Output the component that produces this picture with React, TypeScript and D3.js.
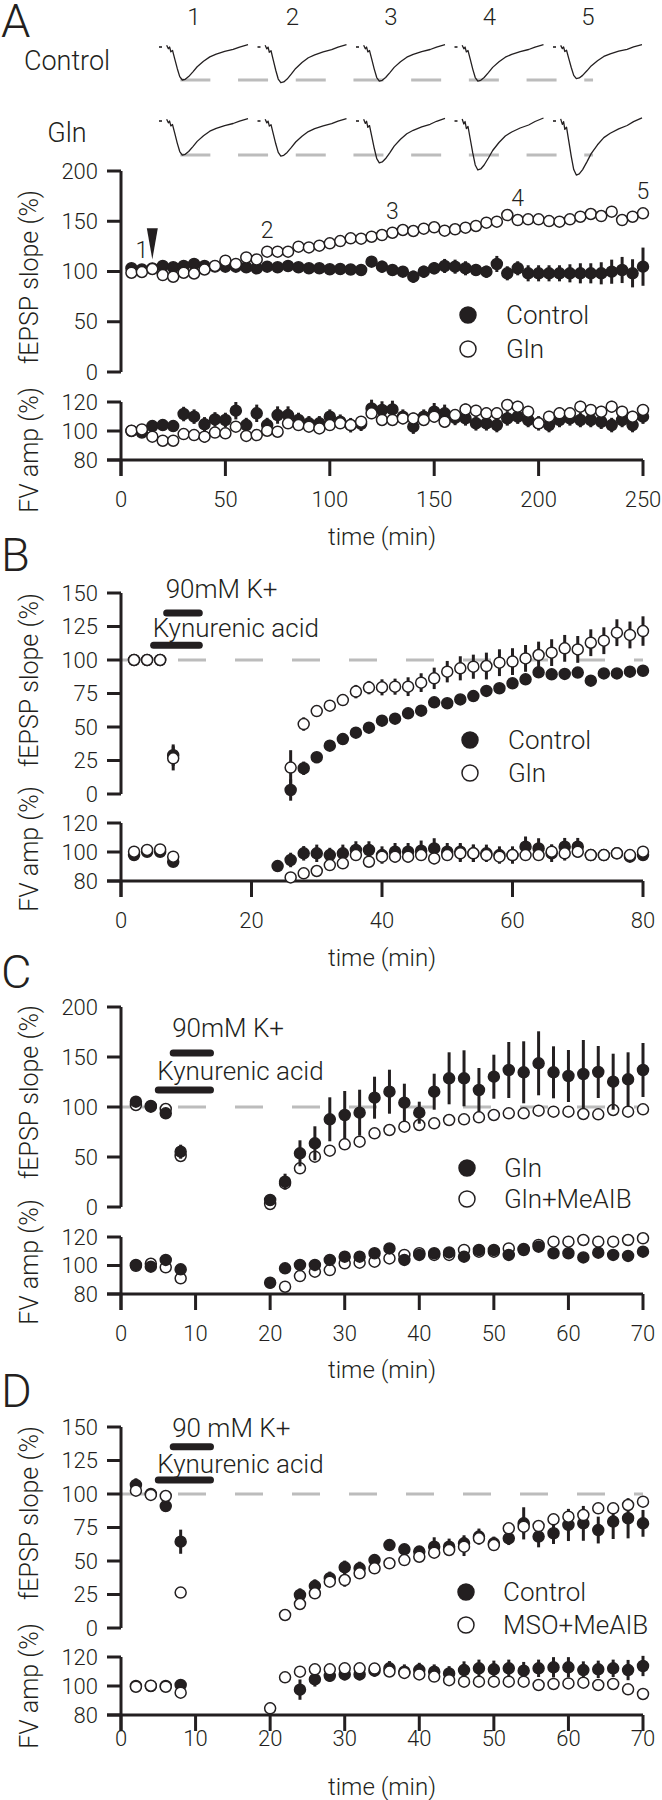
import React from 'react';
import * as d3 from 'd3';

const W = 662;
const H = 1800;
const FONT = "Roboto, 'Liberation Sans', Arial, sans-serif";
const FW = 300;
const INK = '#231f20';
const GRAY = '#bcbcbc';

type Series = { t: number[]; v: number[]; e: number[] };
const S = (t: number[], v: number[], e: number[]): Series => ({ t, v, e });

// ---------------- Panel A data ----------------
const aTimes = d3.range(5, 251, 5);
const aSlopeControl = [103.2, 102, 103, 105.5, 104.2, 105.5, 107.5, 105.5, 105, 104.8, 104.8, 104.2, 103.2, 104.8, 104.2, 105.5, 104.2, 103.2, 103.2, 102.2,
  102.5, 102, 101.5, 109.8, 104.8, 101.5, 99.8, 94.9, 99.8, 103.2, 105.5, 104.8, 103.2, 101.5, 99.8, 107.5, 98.2, 103.2, 98.2, 98.2,
  98.2, 98.2, 98.2, 98.2, 98.2, 98.2, 99.8, 101.5, 98.2, 104.8];
const aSlopeControlErr = [2, 2, 2, 3, 3, 3, 3, 3, 3, 3, 4, 5, 4, 4, 4, 4, 4, 4, 4, 4,
  4, 4, 4, 5, 6, 5, 5, 6, 6, 6, 7, 7, 7, 6, 6, 8, 7, 7, 8, 8, 8, 8, 9, 10, 10, 11, 12, 13, 14, 19];
const aSlopeGln = [98.8, 99.5, 102.5, 96.5, 94.8, 98.8, 98, 102, 105.5, 110.8, 107.5, 114, 112, 119.7, 119.7, 119.7, 124.7, 124, 125.7, 128,
  130.3, 133, 132.7, 134.6, 136.3, 138.6, 141.3, 140.3, 142.6, 144, 140.6, 142, 143.6, 145.3, 148.6, 149.6, 156.2, 151.2, 151.9, 151.9,
  150.2, 149.6, 151.9, 154.5, 157.2, 155.2, 159.5, 151.2, 154.5, 157.9];
const aSlopeGlnErr = [1, 1, 1, 1, 1, 1, 1, 1, 1, 1, 1, 1, 1, 1, 1, 1, 1, 1, 1, 1,
  1, 1, 1, 1, 1, 1, 1, 1, 1, 1, 1, 1, 1, 1, 1, 1, 1, 2, 2, 2, 2, 2, 2, 3, 3, 4, 3, 4, 4, 3];
const aFvControl = [100, 98.9, 103.4, 104.1, 103.4, 111.7, 109.9, 104.6, 108, 107.6, 114, 104.1, 112.2, 104.1, 111, 111, 107.6, 105.3, 105.3, 109.9,
  106.4, 104, 105, 115.6, 114.5, 114.9, 109.9, 103, 109.9, 113.3, 112.2, 109, 108.7, 105.3, 105.3, 104.1, 108.7, 109.9, 107.6, 105.3,
  104.1, 107.6, 108.7, 107.6, 107.6, 106.4, 104.1, 107.6, 104.1, 109.9];
const aFvControlErr = [3, 3, 4, 4, 4, 5, 5, 5, 5, 5, 6, 5, 6, 5, 6, 6, 5, 5, 5, 5,
  5, 5, 5, 6, 6, 6, 5, 5, 5, 6, 6, 5, 5, 5, 5, 5, 5, 5, 5, 5, 5, 5, 5, 5, 5, 5, 5, 5, 5, 5];
const aFvGln = [100.2, 101.1, 96.1, 93.3, 93.3, 97.9, 97.2, 96.1, 98.9, 98.4, 103, 96.6, 97.2, 100.2, 99.5, 105.3, 104.1, 103, 101.8, 104.1,
  105.3, 104.1, 106.4, 112.2, 107.6, 107.6, 108.7, 108.7, 107.6, 109.9, 106.4, 111, 114.9, 114, 112.2, 112.2, 118, 116.8, 113.3, 105.3,
  109.9, 112.2, 112.2, 116.8, 114.5, 113.3, 116.8, 113.3, 109.9, 114.5];
const aFvGlnErr = [2, 2, 2, 3, 3, 3, 3, 4, 3, 3, 3, 3, 3, 3, 3, 3, 3, 3, 3, 3,
  3, 3, 3, 4, 4, 4, 4, 4, 4, 4, 4, 4, 4, 4, 4, 4, 4, 4, 4, 4, 4, 4, 4, 4, 4, 4, 4, 4, 4, 4];
const aTraceTimes = [10, 70, 130, 190, 250];
const aTraceLabels = ['1', '2', '3', '4', '5'];
const aArrowTime = 15;

const traceShapeT = [0.086, 0.105, 0.119, 0.133, 0.152, 0.176, 0.205, 0.233, 0.262, 0.295, 0.333, 0.381, 0.429, 0.5, 0.571, 0.643, 0.738, 0.833, 0.905, 1.0];
const traceShapeV = [-0.02, 0.08, 0.03, 0.17, 0.13, 0.37, 0.66, 0.9, 1.0, 0.98, 0.9, 0.76, 0.61, 0.45, 0.32, 0.24, 0.16, 0.1, 0.03, -0.04];
const traceControlAmp = [1.0, 1.08, 1.03, 1.03, 0.96];
const traceGlnAmp = [1.03, 1.06, 1.26, 1.47, 1.62];

// ---------------- Panel B data ----------------
const bPreT = [2, 4, 6, 8];
const bSlopeCtrlPre = [100, 100, 100, 29];
const bSlopeCtrlPreErr = [1, 1, 1, 8];
const bSlopeGlnPre = [100, 100, 100, 26.6];
const bSlopeGlnPreErr = [1, 1, 1, 9];
const bSlopePostT = d3.range(26, 81, 2);
const bSlopeCtrlPost = [3.0, 19.2, 27.4, 36.1, 41, 45.8, 49.5, 54.7, 56.2, 60.2, 62.2, 68.4, 67.7, 70.6, 73.1, 76.9, 78.9, 82.6, 85.6, 90.8, 89.3, 89.6, 90.6, 84.6, 90.0, 90.0, 91.3, 92.0];
const bSlopeCtrlPostErr = [8, 5, 3, 2, 2, 2, 2, 2, 2, 2, 2, 2, 2, 2, 2, 2, 2, 2, 2, 3, 3, 3, 3, 3, 3, 3, 3, 3];
const bSlopeGlnPost = [19.7, 52.2, 61.9, 65.9, 70.1, 76.4, 79.4, 79.6, 80.1, 80.1, 83.1, 86.3, 91.3, 93.8, 95.0, 95.5, 98, 98.8, 101.2, 103.7, 105.5, 108.7, 107.9, 112.9, 114.4, 120.4, 118.7, 121.6];
const bSlopeGlnPostErr = [13, 5, 4, 4, 4, 5, 5, 6, 6, 7, 7, 8, 8, 9, 9, 10, 10, 10, 10, 10, 10, 10, 10, 10, 10, 10, 10, 11];
const bFvCtrlPre = [97.9, 100.2, 100.2, 93.3];
const bFvGlnPre = [100.2, 101.4, 101.8, 96.8];
const bFvPreErr = [2, 2, 2, 3];
const bFvCtrlPostT = d3.range(24, 81, 2);
const bFvCtrlPost = [90.3, 94.5, 99.1, 99.1, 97.9, 99.1, 101.4, 101.4, 97.9, 100.2, 100.2, 100.9, 102.5, 100.2, 100.2, 99.1, 99.1, 97.9, 97.9, 103.7, 102.5, 99.1, 103.7, 103.7, 97.9, 97.9, 99.1, 96.8, 97.9];
const bFvCtrlPostErr = [4, 5, 5, 6, 5, 6, 6, 6, 6, 6, 6, 7, 7, 6, 6, 6, 6, 6, 6, 7, 7, 6, 6, 6, 3, 3, 3, 3, 3];
const bFvGlnPostT = d3.range(26, 81, 2);
const bFvGlnPost = [82.5, 85.3, 86.9, 91, 92.2, 97.9, 93.3, 96.8, 96.8, 96.8, 97.9, 95.6, 97.9, 99.1, 99.1, 97.9, 96.8, 97.9, 97.9, 97.9, 100.2, 99.1, 100.2, 97.9, 97.9, 99.1, 97.9, 100.2];
const bFvGlnPostErr = [3, 3, 3, 3, 3, 4, 3, 3, 4, 4, 4, 4, 4, 6, 6, 4, 4, 4, 4, 4, 5, 5, 4, 3, 3, 3, 3, 3];

// ---------------- Panel C data ----------------
const cPreT = [2, 4, 6, 8];
const cSlopeGlnPre = [105.3, 100.3, 93.7, 55.3];
const cSlopeGlnPreErr = [2, 2, 3, 7];
const cSlopeMePre = [102, 101, 98, 51];
const cSlopeMePreErr = [1, 1, 1, 3];
const cPostT = d3.range(20, 71, 2);
const cSlopeGlnPost = [7, 25.3, 53.7, 63.7, 87.7, 92, 94.3, 109.3, 115.3, 104.3, 94.3, 115.3, 128.7, 128.7, 117, 130.3, 137, 134.7, 143.7, 134.7, 131, 133, 135, 125.3, 127.7, 137];
const cSlopeGlnPostErr = [3, 8, 13, 17, 22, 24, 23, 21, 22, 19, 11, 18, 26, 28, 22, 22, 28, 31, 32, 26, 26, 34, 26, 28, 27, 27];
const cSlopeMePost = [3, 23.7, 38.7, 50.3, 56.3, 62.7, 65.3, 73.7, 77, 80.3, 82, 83.7, 87, 87.7, 89.7, 92, 93.7, 93.7, 96.3, 95.3, 95.3, 93, 92.7, 97, 95.3, 97.7];
const cSlopeMePostErr = [3, 4, 3, 3, 4, 3, 3, 3, 3, 3, 3, 3, 3, 3, 3, 3, 3, 3, 3, 3, 3, 3, 4, 4, 4, 4];
const cFvGlnPre = [100.4, 99.2, 103.9, 97.3];
const cFvMePre = [99.8, 101.2, 98.7, 91];
const cFvPreErr = [2, 2, 2, 3];
const cFvGlnPost = [87.9, 98, 100.4, 100.4, 103.9, 106.2, 106.2, 108.6, 112, 103.9, 107.4, 108.6, 109.2, 106.2, 110.9, 110.9, 107.4, 111.6, 113.2, 108.6, 108.6, 105.7, 109, 107.4, 106.7, 109.7];
const cFvGlnPostErr = [4, 3, 3, 3, 3, 3, 3, 3, 3, 3, 3, 3, 3, 3, 3, 3, 3, 3, 3, 3, 3, 3, 3, 3, 3, 3];
const cFvMePostT = d3.range(22, 71, 2);
const cFvMePost = [85.1, 92.6, 95.7, 96.8, 101.5, 102, 102.7, 105, 107.4, 108.6, 107.4, 107.4, 110.9, 109.7, 109.7, 112, 110.9, 114.4, 116.7, 116.7, 117.9, 116.7, 116.7, 117.9, 119.1];
const cFvMePostErr = [2, 2, 2, 2, 2, 2, 2, 2, 2, 2, 2, 2, 2, 2, 2, 2, 2, 2, 2, 2, 2, 2, 2, 2, 2];

// ---------------- Panel D data ----------------
const dPreT = [2, 4, 6, 8];
const dSlopeCtrlPre = [106.7, 100, 91, 64.4];
const dSlopeCtrlPreErr = [5, 2, 4, 9];
const dSlopeMsoPre = [102.5, 99.3, 98.5, 26.4];
const dSlopeMsoPreErr = [1, 1, 1, 1];
const dSlopeCtrlPostT = d3.range(24, 71, 2);
const dSlopeCtrlPost = [24.6, 31.3, 37.1, 45.3, 44.5, 50.7, 61.9, 58.7, 57, 60.7, 60.7, 63.2, 68.2, 63.2, 66.9, 78.1, 68.2, 70.7, 76.9, 78.1, 73.1, 79.4, 81.9, 78.1];
const dSlopeCtrlPostErr = [5, 5, 5, 5, 5, 4, 4, 4, 4, 7, 6, 6, 6, 5, 5, 12, 8, 8, 12, 13, 10, 13, 15, 10];
const dSlopeMsoPostT = d3.range(22, 71, 2);
const dSlopeMsoPost = [9.7, 17.9, 25.9, 34.6, 35.8, 40.8, 44.5, 48.3, 50.7, 53.2, 56.2, 58.2, 60.7, 66.9, 61.9, 74.4, 75.6, 76.1, 81.1, 83.1, 84.3, 89.3, 89.3, 91.8, 94.3];
const dSlopeMsoPostErr = [3, 3, 3, 3, 5, 3, 3, 3, 3, 3, 3, 3, 7, 3, 3, 3, 5, 3, 3, 3, 3, 3, 4, 3, 3];
const dFvCtrlPre = [100, 100, 100, 100.7];
const dFvMsoPre = [99.5, 100.2, 99.5, 95.4];
const dFvPreErr = [1, 1, 1, 2];
const dFvCtrlPostT = d3.range(24, 71, 2);
const dFvCtrlPost = [97.5, 104.6, 107, 108, 108, 110.6, 112.2, 109.9, 111, 109.9, 108.7, 111, 112.2, 111.5, 112.2, 110.6, 112.2, 112.9, 112.9, 111, 111.5, 112.2, 111, 113.8];
const dFvCtrlPostErr = [7, 5, 4, 4, 4, 4, 5, 5, 5, 5, 5, 6, 6, 6, 6, 6, 6, 7, 7, 6, 6, 6, 7, 7];
const dFvMsoPostT = d3.range(20, 71, 2);
const dFvMsoPost = [84.6, 106, 109.9, 111.5, 111.5, 112.2, 112.2, 112, 110, 109, 108, 106.5, 104, 103, 103, 103, 103, 103, 100.7, 101.4, 101.8, 102.3, 100.7, 101.4, 97.7, 94.5];
const dFvMsoPostErr = [4, 3, 3, 3, 3, 3, 3, 3, 3, 3, 3, 3, 3, 3, 3, 3, 3, 3, 3, 3, 3, 3, 3, 3, 3, 3];

// ---------------- drawing helpers ----------------
const X0 = 121;
const X1 = 643;

function Dots({ list, x, y, filled, r = 5.5 }: { list: Series[]; x: any; y: any; filled: boolean; r?: number }) {
  return (
    <g>
      {list.map((s, k) => (
        <g key={k}>
          {s.t.map((t, i) =>
            s.e[i] > 0 ? (
              <line key={'e' + i} x1={x(t)} x2={x(t)} y1={y(s.v[i] - s.e[i])} y2={y(s.v[i] + s.e[i])} stroke={INK} strokeWidth={3} />
            ) : null
          )}
          {s.t.map((t, i) => (
            <circle key={'c' + i} cx={x(t)} cy={y(s.v[i])} r={r} fill={filled ? INK : '#fff'} stroke={INK} strokeWidth={1.5} />
          ))}
        </g>
      ))}
    </g>
  );
}

type Group = { filled: boolean; slope: Series[]; fv: Series[] };

interface PanelCfg {
  letter: string;
  letterY: number;
  xMax: number;
  xTicks: number[];
  slopeMax: number;
  slopeTicks: number[];
  slopePx: [number, number];
  fvPx: [number, number];
  groups: Group[];
  dashed: boolean;
  slopeLabelY: number;
  fvLabelY: number;
  tickLabelY: number;
  timeLabelY: number;
  legend: { names: string[]; ys: number[]; cx: number; tx: number };
  bars?: { kyn: number[]; kynV: number; kp: number[]; kpV: number; kpLabel: string; kpBase: number; kynBase: number };
}

function Panel({ cfg, children }: { cfg: PanelCfg; children?: any }) {
  const x = d3.scaleLinear().domain([0, cfg.xMax]).range([X0, X1]);
  const y = d3.scaleLinear().domain([0, cfg.slopeMax]).range(cfg.slopePx);
  const yf = d3.scaleLinear().domain([80, 120]).range(cfg.fvPx);
  const fvTicks = [80, 100, 120];
  const axisW = 3;
  const tickL = 14;
  return (
    <g fontFamily={FONT} fontWeight={FW} fill={INK}>
      {cfg.letter && <text x={1} y={cfg.letterY} fontSize={47}>{cfg.letter}</text>}
      {cfg.dashed && (
        <line x1={x(0)} x2={x(cfg.xMax)} y1={y(100)} y2={y(100)} stroke={GRAY} strokeWidth={3} strokeDasharray="28 29" />
      )}
      <line x1={X0} x2={X0} y1={y(cfg.slopeMax)} y2={y(0)} stroke={INK} strokeWidth={axisW} />
      {cfg.slopeTicks.map((v) => (
        <g key={'st' + v}>
          <line x1={X0 - tickL} x2={X0} y1={y(v)} y2={y(v)} stroke={INK} strokeWidth={axisW} />
          <text x={X0 - 23} y={y(v)} fontSize={22} textAnchor="end" dominantBaseline="central">{v}</text>
        </g>
      ))}
      <line x1={X0} x2={X0} y1={yf(120)} y2={yf(80) + 16} stroke={INK} strokeWidth={axisW} />
      <line x1={X0 - tickL} x2={X1} y1={yf(80)} y2={yf(80)} stroke={INK} strokeWidth={axisW} />
      {fvTicks.map((v) => (
        <g key={'ft' + v}>
          <line x1={X0 - tickL} x2={X0} y1={yf(v)} y2={yf(v)} stroke={INK} strokeWidth={axisW} />
          <text x={X0 - 23} y={yf(v)} fontSize={22} textAnchor="end" dominantBaseline="central">{v}</text>
        </g>
      ))}
      {cfg.xTicks.map((t) => (
        <g key={'xt' + t}>
          <line x1={x(t)} x2={x(t)} y1={yf(80)} y2={yf(80) + 16} stroke={INK} strokeWidth={axisW} />
          <text x={x(t)} y={cfg.tickLabelY} fontSize={22} textAnchor="middle" dominantBaseline="central">{t}</text>
        </g>
      ))}
      <text x={(X0 + X1) / 2} y={cfg.timeLabelY} fontSize={24} textAnchor="middle" dominantBaseline="central">time (min)</text>
      <text transform={`translate(38,${cfg.slopeLabelY}) rotate(-90)`} fontSize={25} textAnchor="middle">fEPSP slope (%)</text>
      <text transform={`translate(38,${cfg.fvLabelY}) rotate(-90)`} fontSize={25} textAnchor="middle">FV amp (%)</text>
      {cfg.bars && (
        <g>
          <line x1={x(cfg.bars.kp[0])} x2={x(cfg.bars.kp[1])} y1={y(cfg.bars.kpV)} y2={y(cfg.bars.kpV)} stroke={INK} strokeWidth={7} strokeLinecap="round" />
          <line x1={x(cfg.bars.kyn[0])} x2={x(cfg.bars.kyn[1])} y1={y(cfg.bars.kynV)} y2={y(cfg.bars.kynV)} stroke={INK} strokeWidth={7} strokeLinecap="round" />
          <text x={x(cfg.bars.kp[0]) - 1} y={cfg.bars.kpBase} fontSize={26}>{cfg.bars.kpLabel}</text>
          <text x={x(cfg.bars.kyn[0]) - 1} y={cfg.bars.kynBase} fontSize={26}>Kynurenic acid</text>
        </g>
      )}
      {cfg.groups.map((g, i) => (
        <g key={'g' + i}>
          <Dots list={g.slope} x={x} y={y} filled={g.filled} />
          <Dots list={g.fv} x={x} y={yf} filled={g.filled} />
        </g>
      ))}
      {cfg.legend.names.map((n, i) => (
        <g key={'lg' + i}>
          <circle cx={cfg.legend.cx} cy={cfg.legend.ys[i]} r={8} fill={i === 0 ? INK : '#fff'} stroke={INK} strokeWidth={1.5} />
          <text x={cfg.legend.tx} y={cfg.legend.ys[i]} fontSize={26} dominantBaseline="central">{n}</text>
        </g>
      ))}
      {children ? children(x, y) : null}
    </g>
  );
}

function Traces() {
  const idx = d3.scaleLinear().domain([0, 4]).range([159, 553]);
  const width = 89;
  const amp = d3.scaleLinear().domain([0, 1]).range([0, 34]);
  const rows = [
    { label: 'Control', base: 46, amps: traceControlAmp, labelY: 70 },
    { label: 'Gln', base: 120, amps: traceGlnAmp, labelY: 142 },
  ];
  return (
    <g fontFamily={FONT} fontWeight={FW} fill={INK}>
      <text x={1} y={37} fontSize={47}>A</text>
      {aTraceLabels.map((l, i) => (
        <text key={'n' + l} x={idx(i) + 35} y={25} fontSize={24} textAnchor="middle">{l}</text>
      ))}
      {rows.map((row) => {
        const depth1 = amp(row.amps[0]);
        return (
          <g key={row.label}>
            <text x={67} y={row.labelY} fontSize={27} textAnchor="middle">{row.label}</text>
            <line x1={idx(0) + width * 0.24} x2={idx(4) + width * 0.45} y1={row.base + depth1} y2={row.base + depth1}
              stroke={GRAY} strokeWidth={3} strokeDasharray="30 27.7" />
            {row.amps.map((a, i) => {
              const x0 = idx(i);
              const line = d3.line<number>()
                .x((_, k) => x0 + traceShapeT[k] * width)
                .y((v) => row.base + v * amp(a));
              return (
                <g key={i}>
                  <line x1={x0} x2={x0 + 3} y1={row.base + 1} y2={row.base + 1} stroke={INK} strokeWidth={1.6} />
                  <path d={line(traceShapeV) || ''} fill="none" stroke={INK} strokeWidth={1.3} strokeLinejoin="round" />
                </g>
              );
            })}
          </g>
        );
      })}
    </g>
  );
}

const panelA: PanelCfg = {
  letter: '',
  letterY: 35,
  xMax: 250,
  xTicks: [0, 50, 100, 150, 200, 250],
  slopeMax: 200,
  slopeTicks: [0, 50, 100, 150, 200],
  slopePx: [372, 171],
  fvPx: [460, 402],
  groups: [
    { filled: true, slope: [S(aTimes, aSlopeControl, aSlopeControlErr)], fv: [S(aTimes, aFvControl, aFvControlErr)] },
    { filled: false, slope: [S(aTimes, aSlopeGln, aSlopeGlnErr)], fv: [S(aTimes, aFvGln, aFvGlnErr)] },
  ],
  dashed: false,
  slopeLabelY: 277,
  fvLabelY: 450,
  tickLabelY: 499,
  timeLabelY: 537,
  legend: { names: ['Control', 'Gln'], ys: [315, 349], cx: 468, tx: 506 },
};

const panelB: PanelCfg = {
  letter: 'B',
  letterY: 571,
  xMax: 80,
  xTicks: [0, 20, 40, 60, 80],
  slopeMax: 150,
  slopeTicks: [0, 25, 50, 75, 100, 125, 150],
  slopePx: [794, 593],
  fvPx: [881, 823],
  groups: [
    { filled: true, slope: [S(bPreT, bSlopeCtrlPre, bSlopeCtrlPreErr), S(bSlopePostT, bSlopeCtrlPost, bSlopeCtrlPostErr)],
      fv: [S(bPreT, bFvCtrlPre, bFvPreErr), S(bFvCtrlPostT, bFvCtrlPost, bFvCtrlPostErr)] },
    { filled: false, slope: [S(bPreT, bSlopeGlnPre, bSlopeGlnPreErr), S(bSlopePostT, bSlopeGlnPost, bSlopeGlnPostErr)],
      fv: [S(bPreT, bFvGlnPre, bFvPreErr), S(bFvGlnPostT, bFvGlnPost, bFvGlnPostErr)] },
  ],
  dashed: true,
  slopeLabelY: 680,
  fvLabelY: 849,
  tickLabelY: 920,
  timeLabelY: 958,
  legend: { names: ['Control', 'Gln'], ys: [740, 773], cx: 470, tx: 508 },
  bars: { kyn: [5, 12], kynV: 111, kp: [7, 12], kpV: 135, kpLabel: '90mM K+', kpBase: 598, kynBase: 637 },
};

const panelC: PanelCfg = {
  letter: 'C',
  letterY: 988,
  xMax: 70,
  xTicks: [0, 10, 20, 30, 40, 50, 60, 70],
  slopeMax: 200,
  slopeTicks: [0, 50, 100, 150, 200],
  slopePx: [1207, 1007],
  fvPx: [1294, 1237],
  groups: [
    { filled: false, slope: [S(cPreT, cSlopeMePre, cSlopeMePreErr), S(cPostT, cSlopeMePost, cSlopeMePostErr)],
      fv: [S(cPreT, cFvMePre, cFvPreErr), S(cFvMePostT, cFvMePost, cFvMePostErr)] },
    { filled: true, slope: [S(cPreT, cSlopeGlnPre, cSlopeGlnPreErr), S(cPostT, cSlopeGlnPost, cSlopeGlnPostErr)],
      fv: [S(cPreT, cFvGlnPre, cFvPreErr), S(cPostT, cFvGlnPost, cFvGlnPostErr)] },
  ],
  dashed: true,
  slopeLabelY: 1092,
  fvLabelY: 1262,
  tickLabelY: 1333,
  timeLabelY: 1370,
  legend: { names: ['Gln', 'Gln+MeAIB'], ys: [1168, 1199], cx: 467, tx: 504 },
  bars: { kyn: [5, 12], kynV: 117, kp: [7, 12], kpV: 154, kpLabel: '90mM K+', kpBase: 1037, kynBase: 1080 },
};

const panelD: PanelCfg = {
  letter: 'D',
  letterY: 1407,
  xMax: 70,
  xTicks: [0, 10, 20, 30, 40, 50, 60, 70],
  slopeMax: 150,
  slopeTicks: [0, 25, 50, 75, 100, 125, 150],
  slopePx: [1628, 1427],
  fvPx: [1715, 1657],
  groups: [
    { filled: true, slope: [S(dPreT, dSlopeCtrlPre, dSlopeCtrlPreErr), S(dSlopeCtrlPostT, dSlopeCtrlPost, dSlopeCtrlPostErr)],
      fv: [S(dPreT, dFvCtrlPre, dFvPreErr), S(dFvCtrlPostT, dFvCtrlPost, dFvCtrlPostErr)] },
    { filled: false, slope: [S(dPreT, dSlopeMsoPre, dSlopeMsoPreErr), S(dSlopeMsoPostT, dSlopeMsoPost, dSlopeMsoPostErr)],
      fv: [S(dPreT, dFvMsoPre, dFvPreErr), S(dFvMsoPostT, dFvMsoPost, dFvMsoPostErr)] },
  ],
  dashed: true,
  slopeLabelY: 1513,
  fvLabelY: 1686,
  tickLabelY: 1738,
  timeLabelY: 1787,
  legend: { names: ['Control', 'MSO+MeAIB'], ys: [1592, 1625], cx: 466, tx: 503 },
  bars: { kyn: [5, 12], kynV: 110.4, kp: [7, 12], kpV: 135.3, kpLabel: '90 mM K+', kpBase: 1437, kynBase: 1473 },
};

export default function App() {
  return (
    <svg width={W} height={H} viewBox={`0 0 ${W} ${H}`} style={{ position: 'absolute', left: 0, top: 0, background: '#fff' }}>
      <rect x={0} y={0} width={W} height={H} fill="#fff" />
      <Traces />
      <Panel cfg={panelA}>
        {(x: any, y: any) => (
          <g fontFamily={FONT} fontWeight={FW} fill={INK}>
            {aTraceTimes.map((t, i) => {
              const k = aTimes.indexOf(t);
              const v = k >= 0 ? aSlopeGln[k] : 100;
              return (
                <text key={'tl' + i} x={x(t)} y={y(v) - 14} fontSize={23} textAnchor="middle">{aTraceLabels[i]}</text>
              );
            })}
            <path
              d={`M${x(aArrowTime) - 5.5},${y(143)} L${x(aArrowTime) + 5.5},${y(143)} L${x(aArrowTime)},${y(112)} Z`}
              fill={INK}
            />
          </g>
        )}
      </Panel>
      <Panel cfg={panelB} />
      <Panel cfg={panelC} />
      <Panel cfg={panelD} />
    </svg>
  );
}
